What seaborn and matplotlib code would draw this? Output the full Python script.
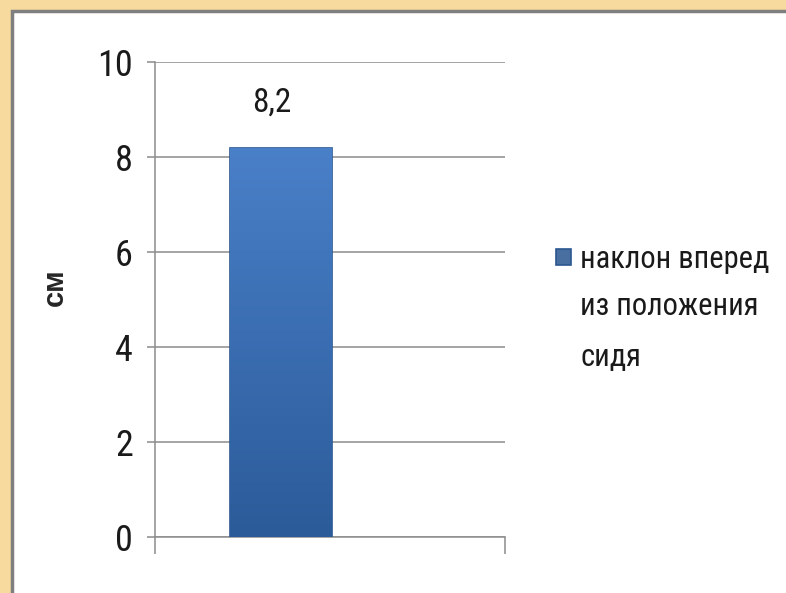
import matplotlib
matplotlib.use('Agg')
import matplotlib.pyplot as plt
from matplotlib import font_manager
from matplotlib.patches import Rectangle
from matplotlib.colors import LinearSegmentedColormap
import seaborn as sns
import pandas as pd
import numpy as np

# data
categories = ['наклон вперед из положения сидя']
values = [8.2]
value_labels = ['8,2']
legend_lines = ['наклон вперед', 'из положения', 'сидя']
y_label = 'см'
y_ticks = [0, 2, 4, 6, 8, 10]

sns.set_style('white')

installed = {f.name for f in font_manager.fontManager.ttflist}
narrow = next((n for n in ['Liberation Sans Narrow', 'DejaVu Sans Condensed', 'Roboto Condensed',
                           'Open Sans Condensed', 'Liberation Sans'] if n in installed), 'DejaVu Sans')
plt.rcParams['font.family'] = [narrow, 'DejaVu Sans']

df = pd.DataFrame({'cat': categories, 'value': values})

fig = plt.figure(figsize=(7.86, 5.93), dpi=100)
fig.patch.set_facecolor('#F6DA9E')
# white slide panel with grey frame
fig.patches.append(Rectangle((12 / 786, -0.01), 1.0, (593 - 11) / 593 + 0.01,
                             transform=fig.transFigure, facecolor='white',
                             edgecolor='#7f7f7f', lw=2.5, zorder=-5))

ax = fig.add_axes([155 / 786, 56 / 593, 350 / 786, 475 / 593])
ax.set_facecolor('none')

sns.barplot(data=df, x='cat', y='value', width=0.29, color='#3A6DB0',
            edgecolor='#2B568F', linewidth=1.2, ax=ax, zorder=3)

# vertical gradient on the bar
cmap = LinearSegmentedColormap.from_list('bar', ['#2C5B99', '#3A6DB1', '#4A80C8'])
grad = np.linspace(0, 1, 256).reshape(-1, 1)
for p in ax.patches:
    x0, y0 = p.get_x(), p.get_y()
    w, h = p.get_width(), p.get_height()
    im = ax.imshow(grad, cmap=cmap, origin='lower', aspect='auto',
                   extent=[x0, x0 + w, y0, y0 + h], zorder=3.5)
    im.set_clip_path(p)

ax.set_xlim(-0.36, 0.64)
ax.set_ylim(0, 10)
ax.set_yticks(y_ticks)
ax.grid(axis='y', color='#8c8c8c', lw=1.1, zorder=0)
ax.set_axisbelow(True)

for s in ['top', 'right']:
    ax.spines[s].set_visible(False)
ax.spines['left'].set_color('#8c8c8c')
ax.spines['bottom'].set_color('#8c8c8c')
ax.spines['left'].set_linewidth(1.1)
ax.spines['bottom'].set_linewidth(1.1)

ax.set_xticks([-0.36, 0.64])
ax.set_xticklabels([])
ax.tick_params(axis='x', length=12, width=1.1, color='#8c8c8c', direction='out', bottom=True)
ax.tick_params(axis='y', length=6, width=1.1, color='#8c8c8c', direction='out',
               labelsize=26, pad=10, left=True, labelcolor='#1a1a1a')
ax.set_xlabel('')
ax.set_ylabel(y_label, fontsize=21, fontweight='bold', family='Liberation Sans')
ax.yaxis.set_label_coords(-0.245, 0.525)

for i, (v, lab) in enumerate(zip(values, value_labels)):
    ax.text(i - 0.025, v + 0.6, lab, ha='center', va='bottom', fontsize=24, color='#1a1a1a')

# legend: handle next to the first line, remaining lines below it
handles = ax.patches[:1]
leg = fig.legend(handles, [legend_lines[0]], loc='upper left', bbox_to_anchor=(556 / 786, 1 - 245 / 593),
                 frameon=False, fontsize=22, handlelength=0.5, handleheight=0.45,
                 handletextpad=0.3, borderpad=0, borderaxespad=0, labelcolor='#1a1a1a')
fig.canvas.draw()
fig.text(0, 0, '\n'.join(legend_lines[1:]), fontsize=22, linespacing=1.95,
         ha='left', va='top', transform=fig.transFigure, color='#1a1a1a')
txt0 = leg.get_texts()[0]
bb = txt0.get_window_extent().transformed(fig.transFigure.inverted())
fig.texts[-1].set_position((bb.x0, bb.y0 - 18 / 593))

fig.savefig('out.png', dpi=100, facecolor=fig.get_facecolor())
